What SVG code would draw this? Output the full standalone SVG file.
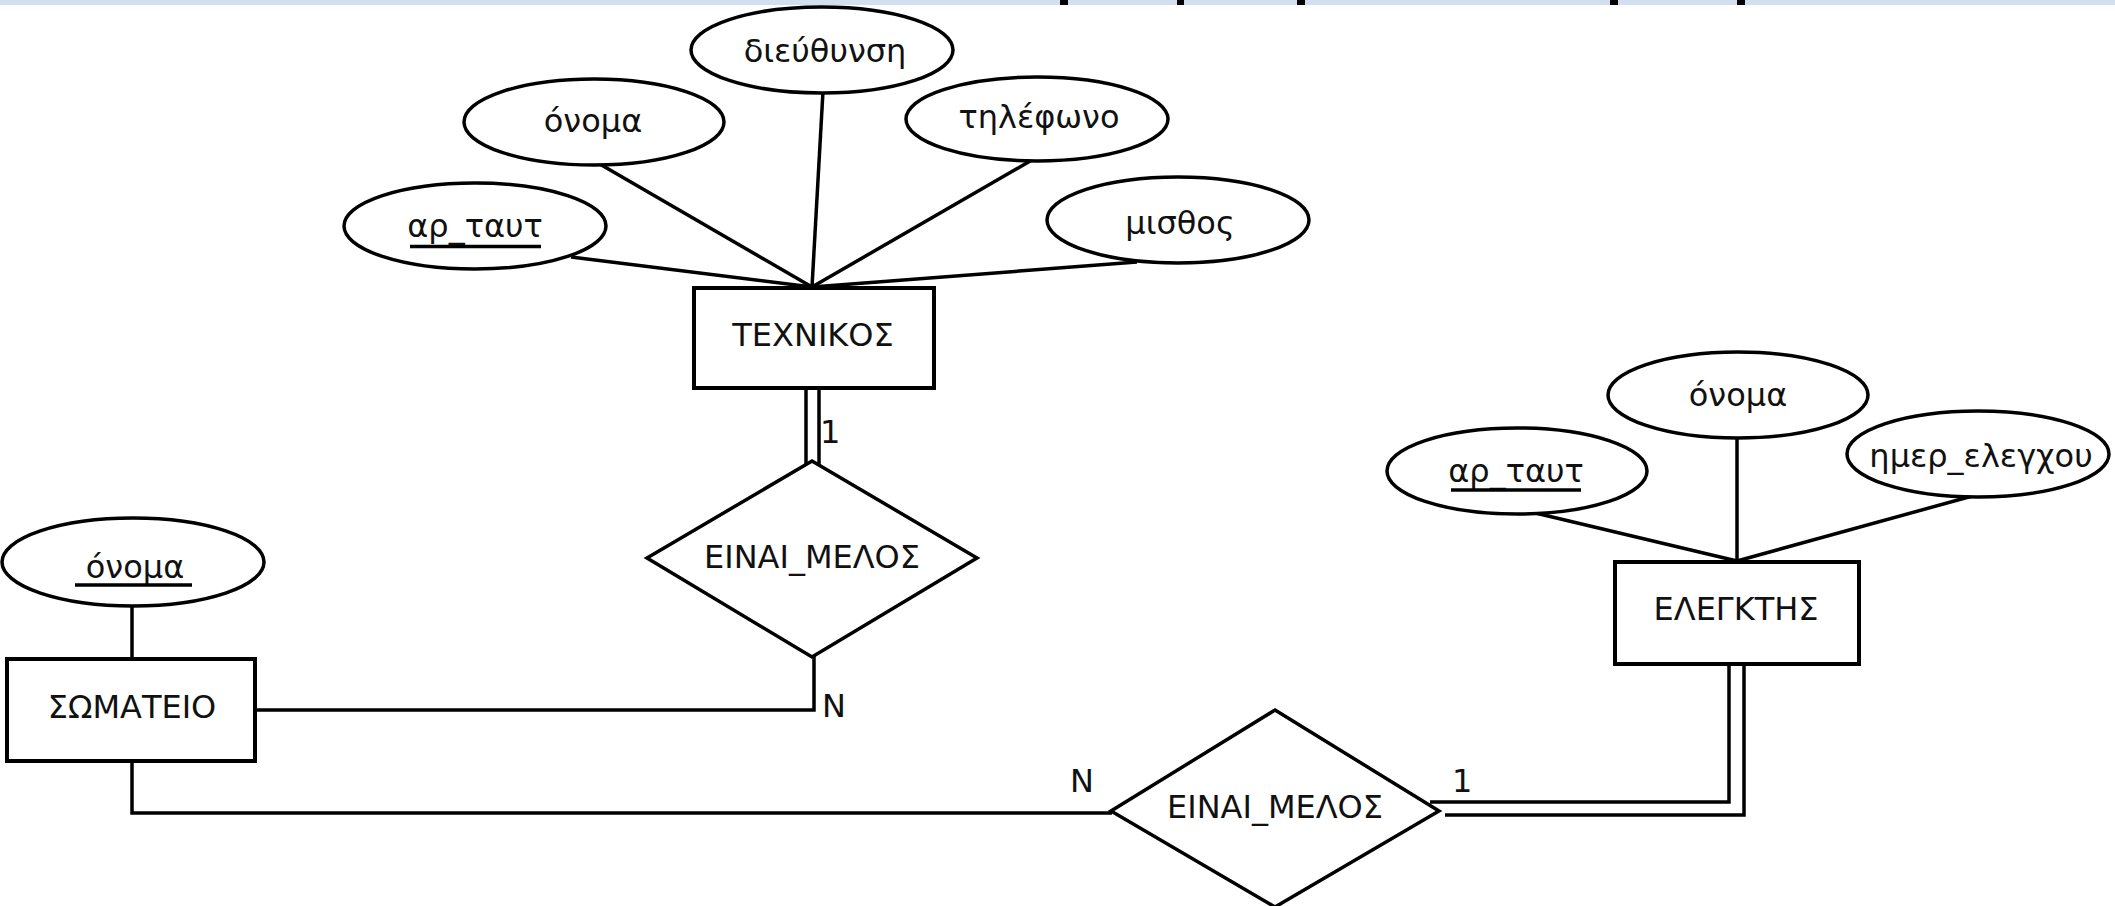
<svg xmlns="http://www.w3.org/2000/svg" width="2115" height="906" viewBox="0 0 2115 906">
  <style>
    .ent { fill: #ffffff; stroke: #000000; stroke-width: 4; }
    .attr { fill: #ffffff; stroke: #000000; stroke-width: 3.5; }
    .rel { fill: #ffffff; stroke: #000000; stroke-width: 3.5; stroke-linejoin: miter; }
    .ln { fill: none; stroke: #000000; stroke-width: 3.5; }
    .t { font-family: "DejaVu Sans", "Noto Sans", sans-serif; font-size: 32px; fill: #111111; text-anchor: middle; }
    .lbl { font-family: "DejaVu Sans", "Noto Sans", sans-serif; font-size: 32px; fill: #111111; }
    .key { stroke: #000000; stroke-width: 3.5; }
  </style>

  <rect x="0" y="0" width="2115" height="906" fill="#ffffff"/>

  <!-- band along the top edge with line stubs -->
  <g id="top-band">
    <rect x="0" y="0" width="2115" height="5" fill="#d2dff0"/>
    <rect x="1060" y="0" width="8" height="5" fill="#000000"/>
    <rect x="1177" y="0" width="7" height="5" fill="#000000"/>
    <rect x="1297" y="0" width="8" height="5" fill="#000000"/>
    <rect x="1610" y="0" width="8" height="5" fill="#000000"/>
    <rect x="1737" y="0" width="8" height="5" fill="#000000"/>
  </g>

  <!-- connectors -->
  <g id="connectors">
    <!-- ΤΕΧΝΙΚΟΣ attributes -->
    <line class="ln" x1="571" y1="257" x2="812" y2="287"/>
    <line class="ln" x1="598" y1="163" x2="812" y2="287"/>
    <line class="ln" x1="823" y1="91" x2="812" y2="287"/>
    <line class="ln" x1="1032" y1="160" x2="812" y2="287"/>
    <line class="ln" x1="1137" y1="262" x2="812" y2="287"/>
    <!-- ΕΛΕΓΚΤΗΣ attributes -->
    <line class="ln" x1="1527" y1="511" x2="1737" y2="561"/>
    <line class="ln" x1="1737" y1="436" x2="1737" y2="562"/>
    <line class="ln" x1="1976" y1="495" x2="1737" y2="561"/>
    <!-- ΣΩΜΑΤΕΙΟ attribute -->
    <line class="ln" x1="132" y1="605" x2="132" y2="659"/>
    <!-- ΤΕΧΝΙΚΟΣ – ΕΙΝΑΙ_ΜΕΛΟΣ (total participation) -->
    <line class="ln" x1="806" y1="388" x2="806" y2="465"/>
    <line class="ln" x1="819" y1="388" x2="819" y2="465"/>
    <!-- ΕΙΝΑΙ_ΜΕΛΟΣ – ΣΩΜΑΤΕΙΟ -->
    <polyline class="ln" points="255,710 814,710 814,655"/>
    <!-- ΣΩΜΑΤΕΙΟ – lower ΕΙΝΑΙ_ΜΕΛΟΣ -->
    <polyline class="ln" points="132,761 132,813 1112,813"/>
    <!-- ΕΛΕΓΚΤΗΣ – lower ΕΙΝΑΙ_ΜΕΛΟΣ (total participation) -->
    <polyline class="ln" points="1729,664 1729,802 1430,802"/>
    <polyline class="ln" points="1744,664 1744,815 1445,815"/>
  </g>

  <!-- ΤΕΧΝΙΚΟΣ -->
  <g id="texnikos">
    <rect class="ent" x="694" y="288" width="240" height="100"/>
    <text class="t" x="813" y="346">ΤΕΧΝΙΚΟΣ</text>
  </g>
  <g id="texnikos-ar-taut">
    <ellipse class="attr" cx="475" cy="226" rx="131" ry="43"/>
    <text class="t" x="475" y="237">αρ_ταυτ</text>
    <line class="key" x1="410" y1="246.5" x2="541" y2="246.5"/>
  </g>
  <g id="texnikos-onoma">
    <ellipse class="attr" cx="594" cy="122" rx="130" ry="43"/>
    <text class="t" x="593" y="132">όνομα</text>
  </g>
  <g id="texnikos-dieuthynsi">
    <ellipse class="attr" cx="822" cy="50" rx="131" ry="43"/>
    <text class="t" x="825" y="62">διεύθυνση</text>
  </g>
  <g id="texnikos-tilefono">
    <ellipse class="attr" cx="1037" cy="119" rx="131" ry="42"/>
    <text class="t" x="1039" y="128">τηλέφωνο</text>
  </g>
  <g id="texnikos-misthos">
    <ellipse class="attr" cx="1178" cy="220" rx="131" ry="43"/>
    <text class="t" x="1180" y="234">μισθος</text>
  </g>

  <!-- upper relationship -->
  <g id="einai-melos-1">
    <polygon class="rel" points="812,461 977,558 812,657 647,558"/>
    <text class="t" x="812" y="568">ΕΙΝΑΙ_ΜΕΛΟΣ</text>
  </g>

  <!-- ΣΩΜΑΤΕΙΟ -->
  <g id="somateio">
    <rect class="ent" x="7" y="659" width="248" height="102"/>
    <text class="t" x="132" y="718">ΣΩΜΑΤΕΙΟ</text>
  </g>
  <g id="somateio-onoma">
    <ellipse class="attr" cx="133" cy="562" rx="131" ry="44"/>
    <text class="t" x="135" y="578">όνομα</text>
    <line class="key" x1="75" y1="585" x2="192" y2="585"/>
  </g>

  <!-- lower relationship -->
  <g id="einai-melos-2">
    <polygon class="rel" points="1275,710 1439,811 1275,907 1111,811"/>
    <text class="t" x="1275" y="818">ΕΙΝΑΙ_ΜΕΛΟΣ</text>
  </g>

  <!-- ΕΛΕΓΚΤΗΣ -->
  <g id="elegktis">
    <rect class="ent" x="1615" y="562" width="244" height="102"/>
    <text class="t" x="1736" y="620">ΕΛΕΓΚΤΗΣ</text>
  </g>
  <g id="elegktis-ar-taut">
    <ellipse class="attr" cx="1517" cy="471" rx="130" ry="43"/>
    <text class="t" x="1516" y="482">αρ_ταυτ</text>
    <line class="key" x1="1451" y1="490" x2="1581" y2="490"/>
  </g>
  <g id="elegktis-onoma">
    <ellipse class="attr" cx="1738" cy="395" rx="130" ry="43"/>
    <text class="t" x="1738" y="406">όνομα</text>
  </g>
  <g id="elegktis-imer-elegxou">
    <ellipse class="attr" cx="1978" cy="454" rx="131" ry="43"/>
    <text class="t" x="1981" y="467">ημερ_ελεγχου</text>
  </g>

  <!-- cardinalities -->
  <g id="cardinalities">
    <text class="lbl" x="820" y="443">1</text>
    <text class="lbl" x="822" y="717">N</text>
    <text class="lbl" x="1070" y="792">N</text>
    <text class="lbl" x="1452" y="792">1</text>
  </g>
</svg>
